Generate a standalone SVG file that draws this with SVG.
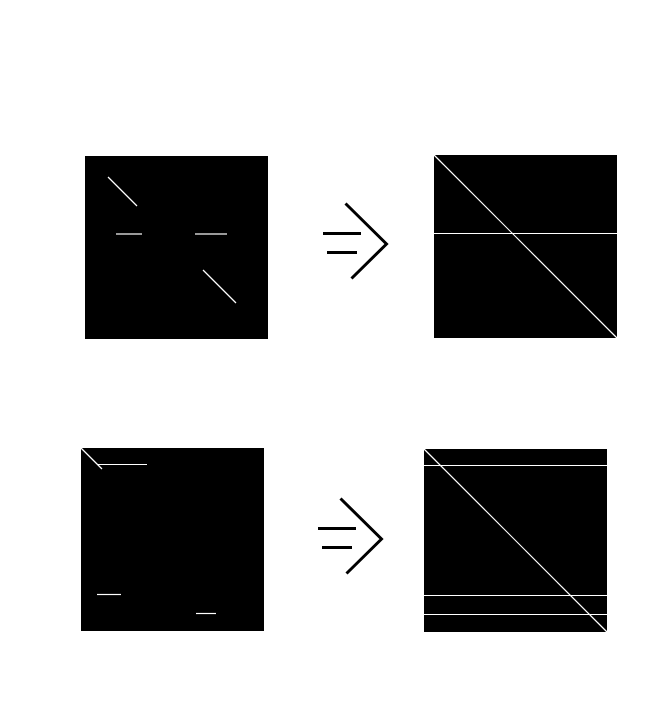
<svg xmlns="http://www.w3.org/2000/svg" width="667" height="706" viewBox="0 0 667 706">
<style>
.sq{fill:#000}
.ln{stroke:#fff;stroke-width:1.2;fill:none}
.ar{stroke:#000;stroke-width:3;fill:none;stroke-linecap:butt}
</style>
<rect width="667" height="706" fill="#fff"/>
<g id="input1">
<rect class="sq" x="85" y="156" width="183" height="183"/>
<line class="ln" x1="108" y1="177" x2="137" y2="206"/>
<line class="ln" x1="116" y1="234" x2="142" y2="234"/>
<line class="ln" x1="195" y1="234" x2="227" y2="234"/>
<line class="ln" x1="203" y1="270" x2="236" y2="303"/>
</g>
<g id="output1">
<rect class="sq" x="434" y="155" width="183" height="183"/>
<line class="ln" x1="434" y1="155" x2="617" y2="338"/>
<line class="ln" x1="434" y1="233.5" x2="617" y2="233.5"/>
</g>
<g id="input2">
<rect class="sq" x="81" y="448" width="183" height="183"/>
<line class="ln" x1="81" y1="448" x2="102" y2="469"/>
<line class="ln" x1="97" y1="464.5" x2="147" y2="464.5"/>
<line class="ln" x1="97" y1="594.5" x2="121" y2="594.5"/>
<line class="ln" x1="196" y1="613.5" x2="216" y2="613.5"/>
</g>
<g id="output2">
<rect class="sq" x="424" y="449" width="183" height="183"/>
<line class="ln" x1="424" y1="449" x2="607" y2="632"/>
<line class="ln" x1="424" y1="465.5" x2="607" y2="465.5"/>
<line class="ln" x1="424" y1="595.5" x2="607" y2="595.5"/>
<line class="ln" x1="424" y1="614.5" x2="607" y2="614.5"/>
</g>
<g id="connectors">
<g id="arrow1">
<polyline class="ar" points="345.5,203.5 386.5,244 351.5,278.5"/>
<line class="ar" x1="323" y1="233.5" x2="361" y2="233.5"/>
<line class="ar" x1="327" y1="252.5" x2="357" y2="252.5"/>
</g>
<g id="arrow2">
<polyline class="ar" points="340.5,498.5 381.5,539 346.5,573.5"/>
<line class="ar" x1="318" y1="528.5" x2="356" y2="528.5"/>
<line class="ar" x1="322" y1="547.5" x2="352" y2="547.5"/>
</g>
</g>
</svg>
